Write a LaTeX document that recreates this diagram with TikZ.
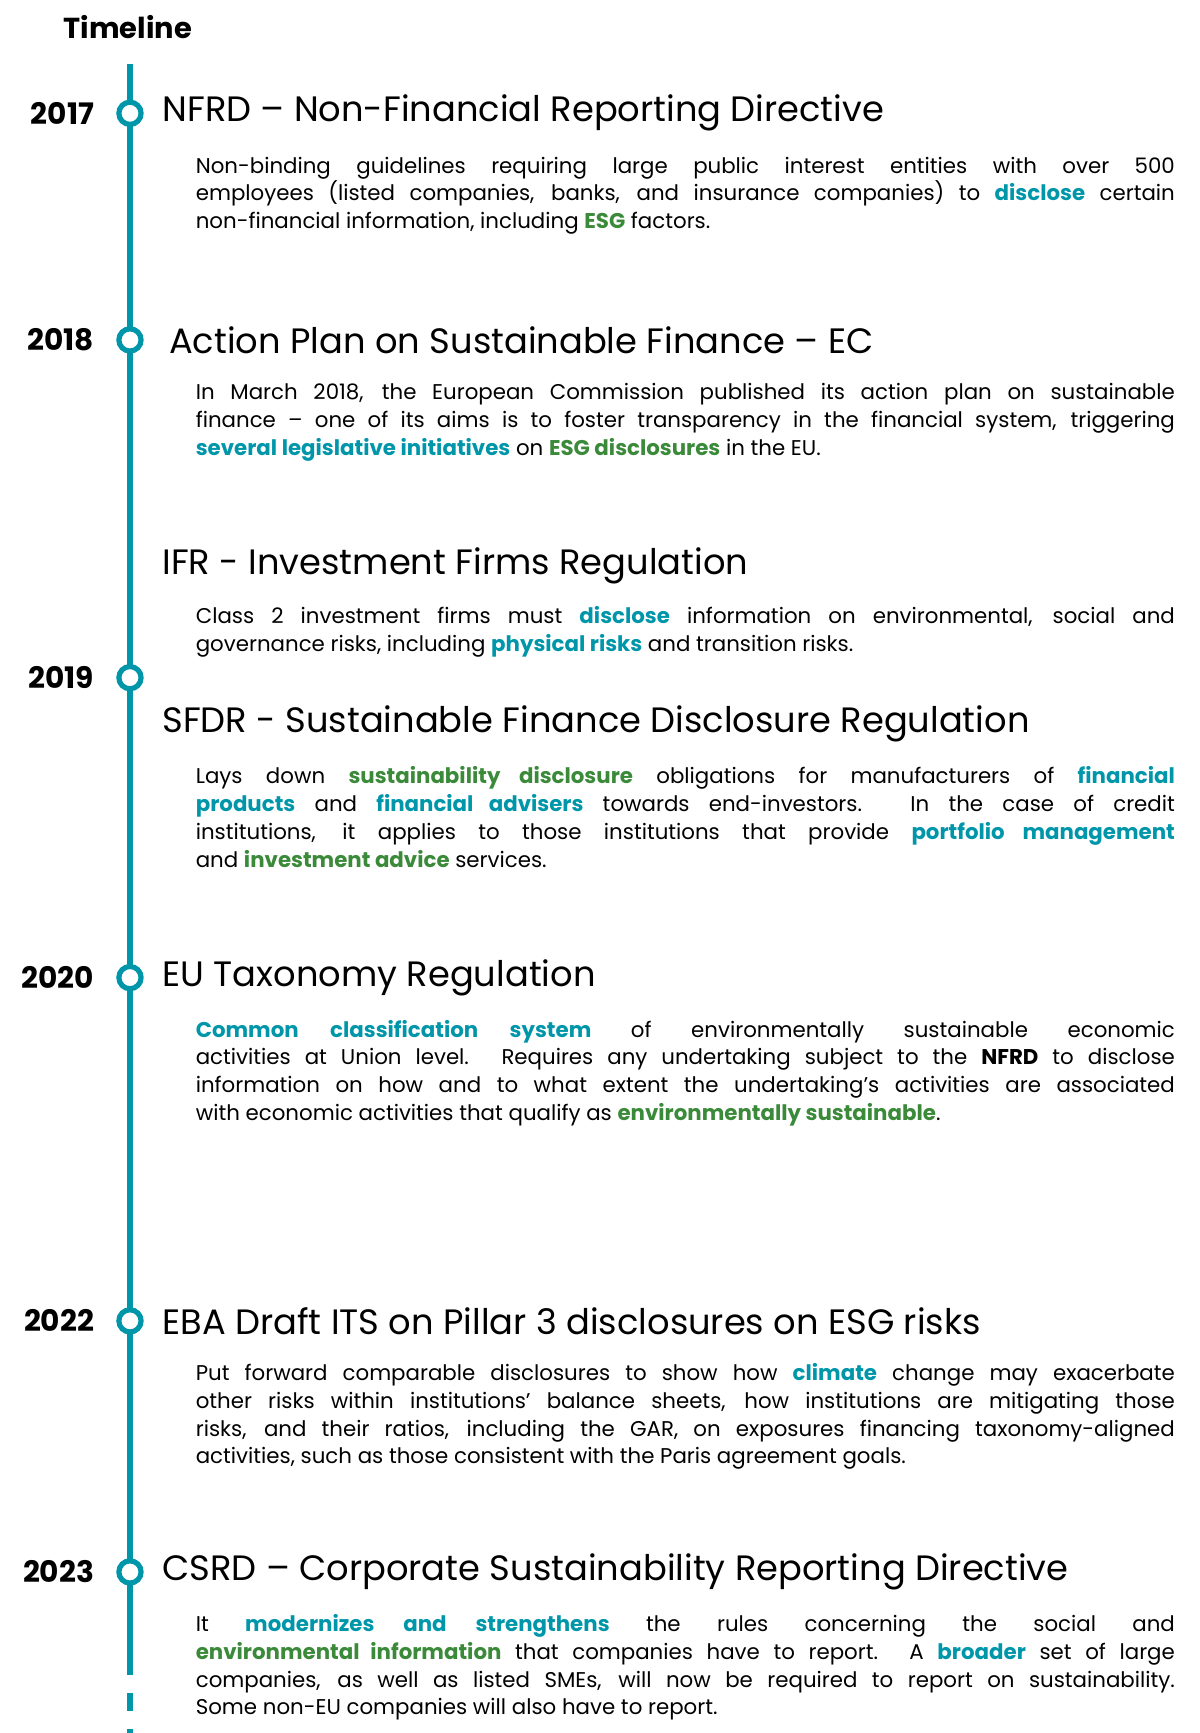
\documentclass[tikz,border=0pt]{standalone}
\usepackage{fontspec}
\setmainfont{Poppins}
\definecolor{teal}{RGB}{0,150,170}
\definecolor{grn}{RGB}{58,138,58}
\newcommand{\tl}[1]{\textcolor{teal}{\bfseries #1}}
\newcommand{\gr}[1]{\textcolor{grn}{\bfseries #1}}
\hyphenpenalty=10000
\exhyphenpenalty=10000
\begin{document}
\begin{tikzpicture}[x=0.75pt,y=-0.75pt,
  yearlbl/.style={anchor=east,font=\fontsize{20}{24}\selectfont\bfseries,inner sep=0},
  ttl/.style={anchor=west,font=\fontsize{23.8}{28}\selectfont,inner sep=0},
  body/.style={anchor=north west,text width=661pt,align=justify,inner sep=0,font=\fontsize{14.4}{18.75}\selectfont},
  dot/.style={circle,draw=teal,fill=white,line width=3.5pt,minimum size=15pt,inner sep=0}]
\useasboundingbox (0,0) rectangle (1080,1560);
\node[anchor=west,inner sep=0,font=\fontsize{19.5}{22}\selectfont\bfseries] (tl) at (57,24) {Timeline};
\coordinate (top) at (117,58);
\coordinate (solidend) at (117,1492);
\coordinate (bot) at (117,1562);
\draw[teal,line width=4pt] (top) -- (solidend);
\draw[teal,line width=4pt,dash pattern=on 12pt off 12pt] (solidend) -- (bot);
\foreach \n/\y/\yr in {a/102/2017,b/306/2018,c/610/2019,d/880/2020,e/1189/2022,f/1415/2023}{
  \node[dot] (d\n) at (117,\y) {};
  \node[yearlbl] (y\n) at (85,\y) {\yr};
}
\node[ttl] (t1) at (146,102) {NFRD – Non-Financial Reporting Directive};
\node[body] (b1) at (176,141) {Non-binding guidelines requiring large public interest entities with over 500\linebreak employees (listed companies, banks, and insurance companies) to \tl{disclose} certain\linebreak non-financial information, including \gr{ESG} factors.};
\node[ttl] (t2) at (152,306) {Action Plan on Sustainable Finance – EC};
\node[body] (b2) at (176,345) {In March 2018, the European Commission published its action plan on sustainable\linebreak finance – one of its aims is to foster transparency in the financial system, triggering\linebreak \tl{several legislative initiatives} on \gr{ESG disclosures} in the EU.};
\node[ttl] (t3) at (146,509) {IFR - Investment Firms Regulation};
\node[body] (b3) at (176,546) {Class 2 investment firms must \tl{disclose} information on environmental, social and\linebreak governance risks, including \tl{physical risks} and transition risks.};
\node[ttl] (t4) at (146,652) {SFDR - Sustainable Finance Disclosure Regulation};
\node[body] (b4) at (176,690) {Lays down \gr{sustainability disclosure} obligations for manufacturers of \tl{financial}\linebreak \tl{products} and \tl{financial advisers} towards end-investors. In the case of credit\linebreak institutions, it applies to those institutions that provide \tl{portfolio management}\linebreak and \gr{investment advice} services.};
\node[ttl] (t5) at (146,880) {EU Taxonomy Regulation};
\node[body] (b5) at (176,918) {\tl{Common classification system} of environmentally sustainable economic\linebreak activities at Union level. Requires any undertaking subject to the \textbf{NFRD} to disclose\linebreak information on how and to what extent the undertaking’s activities are associated\linebreak with economic activities that qualify as \gr{environmentally sustainable}.};
\node[ttl] (t6) at (146,1189) {EBA Draft ITS on Pillar 3 disclosures on ESG risks};
\node[body] (b6) at (176,1227) {Put forward comparable disclosures to show how \tl{climate} change may exacerbate\linebreak other risks within institutions’ balance sheets, how institutions are mitigating those\linebreak risks, and their ratios, including the GAR, on exposures financing taxonomy-aligned\linebreak activities, such as those consistent with the Paris agreement goals.};
\node[ttl] (t7) at (146,1415) {CSRD – Corporate Sustainability Reporting Directive};
\node[body] (b7) at (176,1453) {It \tl{modernizes and strengthens} the rules concerning the social and\linebreak \gr{environmental information} that companies have to report. A \tl{broader} set of large\linebreak companies, as well as listed SMEs, will now be required to report on sustainability.\linebreak Some non-EU companies will also have to report.};
\end{tikzpicture}
\end{document}
